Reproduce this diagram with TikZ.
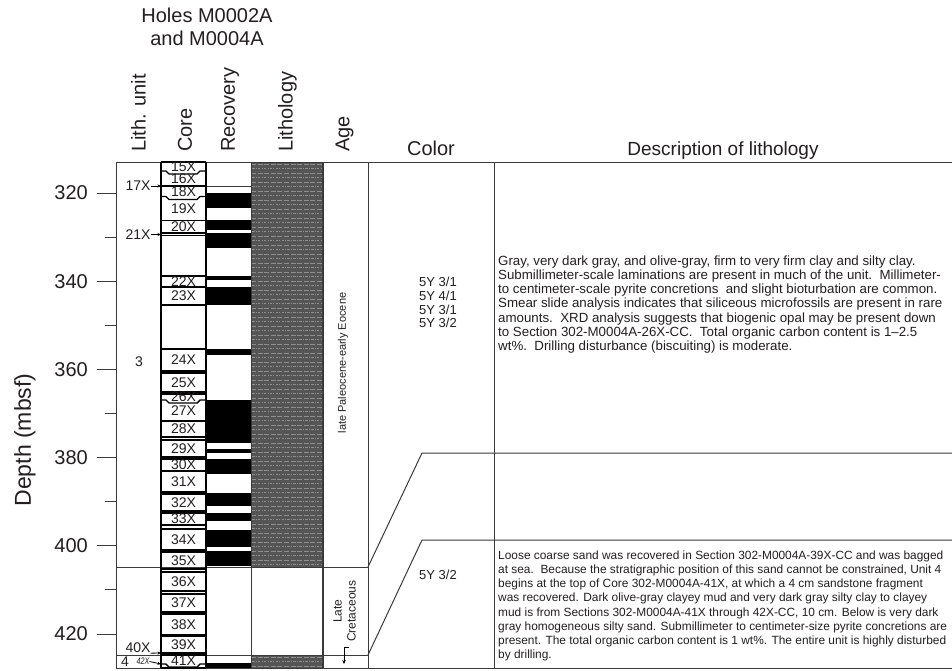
\documentclass[tikz,border=0pt]{standalone}
\usepackage{fontspec}
\setmainfont{Liberation Sans}
\usetikzlibrary{arrows.meta}
\definecolor{ink}{HTML}{231F20}
\definecolor{lithfill}{HTML}{555555}
\definecolor{lithdash}{HTML}{8E8E8E}
\definecolor{rule}{HTML}{3A3A3A}
\newcommand\lithpatch[3]{%
  \begin{scope}
    \clip (251,#1) rectangle (323,#2);
    \fill[lithfill] (251,#1) rectangle (323,#2);
    \foreach \k in {0,...,#3}{%
      \pgfmathsetmacro\ya{#1+2.2+\k*9}%
      \pgfmathsetmacro\yb{#1+6.7+\k*9}%
      \draw[lithdash,line width=1.1pt,dash pattern=on 5pt off 1.6pt] (251,\ya) -- (323,\ya);
      \draw[lithdash,line width=1.1pt,dash pattern=on 2.5pt off 1.2pt on 1pt off 1.2pt] (252,\yb) -- (323,\yb);
    }
  \end{scope}}
\newcommand\corewave[1]{\draw[coreline] (161,#1) -- (166,#1) -- (169,#1+3) -- (197,#1+3) -- (200,#1) -- (206,#1);}
\begin{document}
\begin{tikzpicture}[x=1pt,y=-1pt,
  txt/.style={text=ink,inner sep=0pt},
  head/.style={txt,font=\fontsize{20}{23}\selectfont},
  deplab/.style={txt,font=\fontsize{20}{23}\selectfont,anchor=east},
  corelab/.style={txt,font=\fontsize{14}{14}\selectfont},
  grid/.style={draw=rule,line width=1pt},
  coreline/.style={draw=black,line width=1.4pt},
  unitarrow/.style={draw=black,line width=0.8pt,-{Stealth[length=3.5pt,width=3pt]}},
  desc/.style={txt,align=left,anchor=north west}
]
\useasboundingbox (0,0) rectangle (952,670);
\fill[white] (0,0) rectangle (952,670);

% ---- headings
\node[head,align=center] (title) at (207,27) {Holes M0002A\\and M0004A};
\node[head,rotate=90,anchor=west] (hlith) at (138.5,152) {Lith. unit};
\node[head,rotate=90,anchor=west] (hcore) at (185,152) {Core};
\node[head,rotate=90,anchor=west] (hrec) at (230,152) {Recovery};
\node[head,rotate=90,anchor=west] (hlitho) at (287.5,152) {Lithology};
\node[head,rotate=90,anchor=west] (hage) at (344.5,152) {Age};
\node[head,anchor=base] (hcolor) at (431,155) {Color};
\node[txt,font=\fontsize{19}{22}\selectfont,anchor=base] (hdesc) at (723,155) {Description of lithology};

% ---- depth axis
\node[txt,rotate=90,font=\fontsize{23}{26}\selectfont] (depth) at (25,440) {Depth (mbsf)};
\foreach \d in {320,340,...,420}{%
  \pgfmathsetmacro\yy{193+(\d-320)*4.41}
  \draw[grid] (97,\yy) -- (116,\yy);
  \node[deplab] (dl\d) at (88,\yy) {\d};
}
\foreach \d in {330,350,...,410}{%
  \pgfmathsetmacro\yy{193+(\d-320)*4.41}
  \draw[grid] (105,\yy) -- (116,\yy);
}

% ---- recovery bars
\foreach \a/\b in {193/208,220/230,233/248,276/280,287/305,349/355,400/443,449/453,459/474,493/506,513/521,530/547,551/566,663/668}{%
  \fill[black] (206,\a) rectangle (251,\b);
}

% ---- lithology pattern
\lithpatch{162}{567}{45}
\lithpatch{655}{668}{2}

% ---- grid lines
\draw[grid] (116,162) -- (952,162);
\draw[grid] (116,668) -- (952,668);
\draw[grid] (116,162) -- (116,668);
\draw[grid] (251,162) -- (251,668);
\draw[grid,line width=1.3pt] (323,162) -- (323,668);
\draw[grid] (368,162) -- (368,668);
\draw[grid] (494,162) -- (494,668);
\draw[grid] (116,567) -- (368,567);
\draw[grid] (116,655) -- (368,655);
\draw[grid] (206,186) -- (251,186);
\draw[grid] (368,567) -- (422,453) -- (952,453);
\draw[grid] (368,655) -- (422,540) -- (952,540);

% ---- core column
\draw[coreline] (161,162) -- (161,668);
\draw[coreline] (206,162) -- (206,668);
\foreach \yy in {162,186,220.5,233,235.5,276,287,305,349,371,373,392,394,421,437,440,457,459,471,492,494,511,513,525,529,550,552,569,572,591,594,612,614,635,636,653,655,668}{%
  \draw[coreline] (161,\yy) -- (206,\yy);
}
\corewave{171}
\corewave{196.5}
\corewave{400}
\corewave{664}
\foreach \cn/\yy in {15/166.5,16/179,18/191.5,19/208.5,20/227,22/281.5,23/296,24/360,25/382.5,26/396.5,27/411,28/429,29/448.5,30/465,31/481.5,32/502.5,33/519,34/539.5,35/560.5,36/581.5,37/603,38/624.5,39/644.5,41/660.5}{%
  \node[corelab] (core\cn) at (183.5,\yy) {\cn{}X};
}

% ---- lith. unit column
\node[corelab] (u17) at (138,186) {17X};
\coordinate (c17) at (161,186);
\draw[unitarrow] (u17.east) -- (c17);
\node[corelab] (u21) at (138,234.5) {21X};
\coordinate (c21) at (161,234.5);
\draw[unitarrow] (u21.east) -- (c21);
\node[corelab] (unit3) at (139,362) {3};
\node[corelab] (u40) at (138,648) {40X};
\coordinate (c40) at (161,653);
\draw[unitarrow] (u40.south east) -- (c40);
\node[corelab] (unit4) at (125,661.5) {4};
\node[txt,font=\itshape\fontsize{9.5}{9.5}\selectfont,xscale=0.75] (u42) at (143,661.5) {42X};
\coordinate (c42) at (161,664);
\draw[unitarrow] (u42.east) -- (c42);

% ---- age column
\node[txt,rotate=90,font=\fontsize{11}{13}\selectfont] (agea) at (343,363) {late Paleocene-early Eocene};
\node[txt,rotate=90,align=center,font=\fontsize{12}{14}\selectfont] (ageb) at (344.5,611) {Late\\Cretaceous};
\coordinate (agetop) at (344,647);
\coordinate (agebot) at (344,664);
\coordinate (agetick) at (349,647);
\draw[black,line width=0.8pt,-{Stealth[length=4pt,width=3.5pt]}] (agetop) -- (agebot);
\draw[black,line width=0.8pt] (agetop) -- (agetick);

% ---- color column
\node[txt,align=center,font=\fontsize{13}{13.7}\selectfont] (col1) at (438,302.5) {5Y 3/1\\5Y 4/1\\5Y 3/1\\5Y 3/2};
\node[txt,font=\fontsize{13}{13.7}\selectfont] (col2) at (438,575) {5Y 3/2};

% ---- descriptions
\node[desc,font=\fontsize{13.3}{14.2}\selectfont] (desc1) at (498,255.5) {Gray, very dark gray, and olive-gray, firm to very firm clay and silty clay.\\
Submillimeter-scale laminations are present in much of the unit.\ \ Millimeter-\\
to centimeter-scale pyrite concretions\ \ and slight bioturbation are common.\\
Smear slide analysis indicates that siliceous microfossils are present in rare\\
amounts.\ \ XRD analysis suggests that biogenic opal may be present down\\
to Section 302-M0004A-26X-CC.\ \ Total organic carbon content is 1--2.5\\
wt\%.\ \ Drilling disturbance (biscuiting) is moderate.};
\node[desc,font=\fontsize{11.9}{14.2}\selectfont] (desc2) at (498,550.5) {Loose coarse sand was recovered in Section 302-M0004A-39X-CC and was bagged\\
at sea.\ \ Because the stratigraphic position of this sand cannot be constrained, Unit 4\\
begins at the top of Core 302-M0004A-41X, at which a 4 cm sandstone fragment\\
was recovered. Dark olive-gray clayey mud and very dark gray silty clay to clayey\\
mud is from Sections 302-M0004A-41X through 42X-CC, 10 cm. Below is very dark\\
gray homogeneous silty sand. Submillimeter to centimeter-size pyrite concretions are\\
present. The total organic carbon content is 1 wt\%. The entire unit is highly disturbed\\
by drilling.};
\end{tikzpicture}
\end{document}
